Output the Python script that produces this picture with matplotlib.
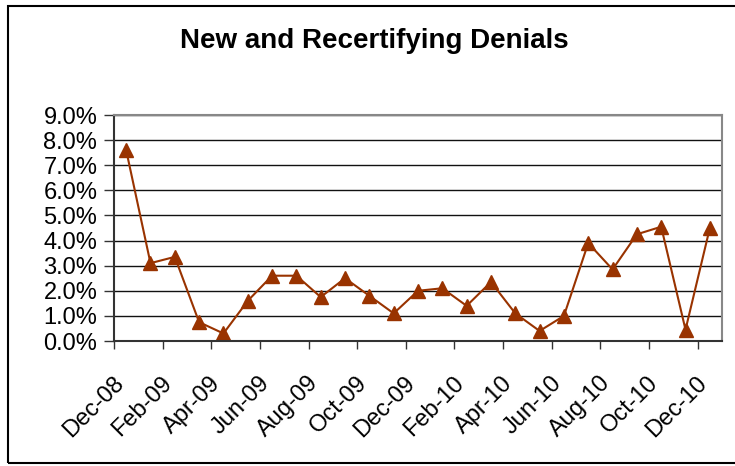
import matplotlib
matplotlib.use("Agg")
import matplotlib.pyplot as plt
from matplotlib.patches import Rectangle
from matplotlib.ticker import FixedLocator, FuncFormatter
from matplotlib.transforms import ScaledTranslation

plt.rcParams['font.family'] = ['Liberation Sans', 'DejaVu Sans']

months = ["Dec-08", "Jan-09", "Feb-09", "Mar-09", "Apr-09", "May-09", "Jun-09",
          "Jul-09", "Aug-09", "Sep-09", "Oct-09", "Nov-09", "Dec-09", "Jan-10",
          "Feb-10", "Mar-10", "Apr-10", "May-10", "Jun-10", "Jul-10", "Aug-10",
          "Sep-10", "Oct-10", "Nov-10", "Dec-10"]
denials = [7.6, 3.1, 3.35, 0.75, 0.3, 1.6, 2.6, 2.6, 1.75, 2.5, 1.8, 1.1, 2.0,
           2.1, 1.4, 2.35, 1.1, 0.4, 1.0, 3.9, 2.85, 4.25, 4.55, 0.45, 4.5]
yticks = [0, 1, 2, 3, 4, 5, 6, 7, 8, 9]

W, H = 735, 466
fig = plt.figure(figsize=(W / 100, H / 100), dpi=100)
ax = fig.add_axes([114 / W, 1 - 341 / H, (722 - 114) / W, (341 - 115) / H])

x = list(range(len(months)))
color = "#993300"
ax.plot(x, denials, color=color, lw=1.5, marker="^", markersize=9.5,
        markerfacecolor=color, markeredgecolor=color)

ax.set_xlim(-0.5, len(months) - 0.5)
ax.set_ylim(0, 9)

ax.set_yticks(yticks)
ax.yaxis.set_major_formatter(FuncFormatter(lambda v, p: f"{v:.1f}%"))
ax.tick_params(axis="y", direction="out", length=7, width=1, color="#333333",
               labelsize=17, pad=5)
for v in yticks[1:]:
    ax.axhline(v, color="#111111", lw=1, zorder=0)

# x: tick marks between category pairs, labels on every other category
ax.xaxis.set_major_locator(FixedLocator([i - 0.5 for i in range(0, len(months) + 1, 2)]))
ax.xaxis.set_major_formatter(FuncFormatter(lambda v, p: ""))
ax.xaxis.set_minor_locator(FixedLocator(x[::2]))
ax.set_xticklabels(months[::2], minor=True, rotation=45, ha="right",
                   va="center", rotation_mode="anchor", fontsize=17)
ax.tick_params(axis="x", which="major", direction="out", length=6, width=1,
               color="#333333")
ax.tick_params(axis="x", which="minor", length=0, pad=28)
offset = ScaledTranslation(-6 / 100, 0, fig.dpi_scale_trans)
for lab in ax.get_xticklabels(minor=True):
    lab.set_transform(lab.get_transform() + offset)

for s in ["left", "bottom"]:
    ax.spines[s].set_color("#333333")
    ax.spines[s].set_linewidth(1.5)
for s in ["top", "right"]:
    ax.spines[s].set_color("#888888")
    ax.spines[s].set_linewidth(1.5)

fig.text(374 / W, 1 - 41 / H, "New and Recertifying Denials", ha="center",
         va="center", fontsize=20, fontweight="bold")

fig.patches.append(Rectangle((8 / W, 3 / H), (740 - 8) / W, (463 - 6) / H,
                             transform=fig.transFigure, fill=False,
                             edgecolor="black", lw=1.5))

fig.savefig("out.png", dpi=100)
